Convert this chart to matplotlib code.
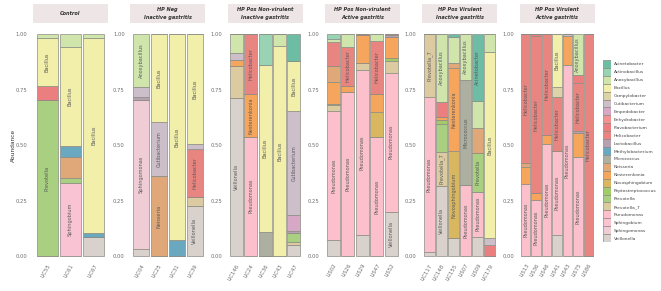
import matplotlib

matplotlib.use("Agg")
import matplotlib.pyplot as plt
import numpy as np

GENERA = [
    "Acinetobacter", "Actinobacillus", "Anoxybacillus", "Bacillus", "Campylobacter",
    "Cutibacterium", "Empedobacter", "Enhydrobacter", "Flavobacterium", "Helicobacter",
    "Lactobacillus", "Methylobacterium", "Micrococcus", "Neisseria", "Nesterenkonia",
    "Novosphingobium", "Peptostreptococcus", "Prevotella", "Prevotella_7", "Pseudomonas",
    "Sphingobium", "Sphingomonas", "Veillonella",
]
COLORS = [
    "#6DBDA5", "#98D3B4", "#CFE5AC", "#F2EFAA", "#DDD3A8",
    "#CDBFC9", "#D6A8C6", "#F29393", "#EB7F7F", "#E98580",
    "#B8A0B3", "#6AA8C0", "#ADAFA0", "#E0A879", "#F6A55C",
    "#D8B760", "#A3CB6A", "#A8D080", "#DCCBA0", "#FBC0CB",
    "#F9C3D3", "#EFCCD6", "#D9D1CC",
]

CONTROL_SAMPLES = ["LIC55", "LIC61", "LIC67"]
CONTROL = {
    "Anoxybacillus": [0.020, 0.060, 0.020],
    "Bacillus": [0.216, 0.444, 0.874],
    "Flavobacterium": [0.061, 0, 0],
    "Methylobacterium": [0, 0.051, 0.022],
    "Neisseria": [0, 0.095, 0],
    "Prevotella": [0.703, 0.022, 0],
    "Sphingobium": [0, 0.328, 0],
    "Veillonella": [0, 0, 0.084],
}

HPNEG_SAMPLES = ["LIC04", "LIC25", "LIC31", "LIC39"]
HPNEG = {
    "Anoxybacillus": [0.240, 0, 0, 0],
    "Bacillus": [0, 0.395, 0.928, 0.495],
    "Cutibacterium": [0.045, 0.245, 0, 0.024],
    "Helicobacter": [0, 0, 0, 0.216],
    "Lactobacillus": [0.010, 0, 0, 0],
    "Methylobacterium": [0, 0, 0.072, 0],
    "Neisseria": [0, 0.360, 0, 0],
    "Prevotella_7": [0, 0, 0, 0.038],
    "Sphingomonas": [0.675, 0, 0, 0],
    "Veillonella": [0.030, 0, 0, 0.227],
}

NV_INACTIVE_SAMPLES = ["LIC146", "LIC24", "LIC36", "LIC43", "LIC47"]
NV_INACTIVE = {
    "Acinetobacter": [0, 0, 0, 0, 0.122],
    "Actinobacillus": [0, 0, 0.140, 0, 0],
    "Anoxybacillus": [0.084, 0, 0, 0.054, 0],
    "Bacillus": [0, 0, 0.750, 0.946, 0.224],
    "Cutibacterium": [0.033, 0, 0, 0, 0.468],
    "Empedobacter": [0, 0, 0, 0, 0.075],
    "Helicobacter": [0, 0.270, 0, 0, 0],
    "Lactobacillus": [0, 0, 0, 0, 0.008],
    "Micrococcus": [0, 0, 0.110, 0, 0],
    "Nesterenkonia": [0.027, 0.192, 0, 0, 0],
    "Prevotella": [0, 0, 0, 0, 0.038],
    "Prevotella_7": [0.145, 0, 0, 0, 0.015],
    "Pseudomonas": [0, 0.538, 0, 0, 0],
    "Veillonella": [0.711, 0, 0, 0, 0.050],
}

NV_ACTIVE_SAMPLES = ["LIS02", "LIS26", "LIS29", "LIS47", "LIS52"]
NV_ACTIVE = {
    "Actinobacillus": [0.024, 0, 0, 0, 0],
    "Anoxybacillus": [0.010, 0.057, 0, 0.030, 0],
    "Helicobacter": [0.110, 0.177, 0.006, 0.240, 0.006],
    "Lactobacillus": [0, 0, 0, 0, 0.009],
    "Neisseria": [0.070, 0, 0, 0, 0],
    "Nesterenkonia": [0.100, 0.026, 0.126, 0.080, 0.095],
    "Novosphingobium": [0, 0, 0, 0.115, 0],
    "Peptostreptococcus": [0.008, 0, 0, 0, 0.012],
    "Prevotella_7": [0.025, 0, 0.030, 0, 0.052],
    "Pseudomonas": [0.581, 0.740, 0.743, 0.535, 0.626],
    "Veillonella": [0.072, 0, 0.095, 0, 0.200],
}

V_INACTIVE_SAMPLES = ["LIC117", "LIC148", "LIC155", "LIS07", "LIS09", "LIC179"]
V_INACTIVE = {
    "Acinetobacter": [0, 0, 0.012, 0, 0.300, 0],
    "Anoxybacillus": [0, 0.305, 0.120, 0.207, 0.125, 0.080],
    "Bacillus": [0, 0, 0, 0, 0, 0.840],
    "Cutibacterium": [0, 0, 0, 0, 0, 0.030],
    "Flavobacterium": [0, 0.070, 0, 0, 0, 0.050],
    "Micrococcus": [0, 0, 0, 0.473, 0, 0],
    "Neisseria": [0, 0, 0.022, 0, 0.113, 0],
    "Nesterenkonia": [0, 0.012, 0.375, 0, 0, 0],
    "Novosphingobium": [0, 0, 0.391, 0, 0, 0],
    "Peptostreptococcus": [0, 0.018, 0, 0, 0, 0],
    "Prevotella": [0, 0.125, 0, 0, 0.172, 0],
    "Prevotella_7": [0.285, 0.155, 0, 0, 0, 0],
    "Pseudomonas": [0.695, 0, 0, 0.320, 0.203, 0],
    "Veillonella": [0.020, 0.315, 0.080, 0, 0.087, 0],
}

V_ACTIVE_SAMPLES = ["LIS13", "LIS36", "LIS46", "LIS41", "LIS43", "LIS75", "LIS86"]
V_ACTIVE = {
    "Anoxybacillus": [0, 0, 0, 0, 0, 0.185, 0],
    "Bacillus": [0, 0, 0, 0.240, 0, 0, 0],
    "Campylobacter": [0, 0, 0, 0.045, 0, 0, 0],
    "Cutibacterium": [0, 0, 0, 0, 0.010, 0, 0],
    "Flavobacterium": [0, 0.010, 0, 0, 0, 0.035, 0],
    "Helicobacter": [0.583, 0.708, 0.455, 0.240, 0, 0.219, 1.0],
    "Lactobacillus": [0, 0, 0, 0, 0, 0.008, 0],
    "Neisseria": [0.015, 0, 0, 0, 0, 0, 0],
    "Nesterenkonia": [0.078, 0.030, 0.040, 0, 0.130, 0.108, 0],
    "Pseudomonas": [0.324, 0.252, 0.505, 0.380, 0.860, 0.445, 0],
    "Veillonella": [0, 0, 0, 0.095, 0, 0, 0],
}

PANELS = [
    ("Control", CONTROL_SAMPLES, CONTROL),
    ("HP Neg\nInactive gastritis", HPNEG_SAMPLES, HPNEG),
    ("HP Pos Non-virulent\nInactive gastritis", NV_INACTIVE_SAMPLES, NV_INACTIVE),
    ("HP Pos Non-virulent\nActive gastritis", NV_ACTIVE_SAMPLES, NV_ACTIVE),
    ("HP Pos Virulent\nInactive gastritis", V_INACTIVE_SAMPLES, V_INACTIVE),
    ("HP Pos Virulent\nActive gastritis", V_ACTIVE_SAMPLES, V_ACTIVE),
]

LABEL_MIN = 0.15
W, H = 661, 291
STRIP_BG = "#EDE5E6"
EDGE = "#8C8C84"

fig = plt.figure(figsize=(W / 100, H / 100), dpi=100)
color_of = dict(zip(GENERA, COLORS))

for i, (title, samples, table) in enumerate(PANELS):
    left = 33 + 97.3 * i
    ax = fig.add_axes([left / W, 1 - 258.7 / H, 75 / W, 235.8 / H])
    x = np.arange(len(samples))
    # stack so that the first genus (alphabetically) is on top
    bottom = np.zeros(len(samples))
    for genus in reversed(GENERA):
        if genus not in table:
            continue
        vals = np.array(table[genus], dtype=float)
        ax.bar(x, vals, bottom=bottom, width=0.9, color=color_of[genus],
               edgecolor=EDGE, linewidth=0.5)
        for xi, v, b in zip(x, vals, bottom):
            if v > LABEL_MIN:
                ax.text(xi, b + v / 2, genus, rotation=90, ha="center", va="center",
                        fontsize=3.6, color="#5A5A5A")
        bottom += vals
    ax.set_xlim(-0.6, len(samples) - 0.4)
    ax.set_ylim(-0.012, 1.05)
    ax.set_yticks([0, 0.25, 0.5, 0.75, 1.0])
    ax.set_yticklabels(["0.00", "0.25", "0.50", "0.75", "1.00"])
    ax.set_xticks(x)
    ax.set_xticklabels(samples, rotation=60, ha="right", rotation_mode="anchor")
    ax.tick_params(axis="both", length=0, labelsize=3.8, labelcolor="#6E6E6E")
    ax.tick_params(axis="y", pad=4)
    ax.tick_params(axis="x", pad=3)
    for s in ax.spines.values():
        s.set_visible(False)

    sx = fig.add_axes([left / W, 1 - 22.8 / H, 75 / W, 18.8 / H])
    sx.set_facecolor(STRIP_BG)
    sx.set_xticks([])
    sx.set_yticks([])
    for s in sx.spines.values():
        s.set_visible(False)
    sx.text(0.5, 0.5, title, ha="center", va="center", fontsize=3.6,
            fontweight="bold", fontstyle="italic", color="#333333",
            linespacing=1.9, transform=sx.transAxes)

fig.text(13 / W, 1 - 145 / H, "Abundance", rotation=90, ha="center", va="center",
         fontsize=4.2, color="#333333")

# legend: a column of stacked keys with the genus names on the right
lax = fig.add_axes([603 / W, 1 - 242 / H, 8 / W, 182 / H])
ky = np.arange(len(GENERA))
lax.barh(ky, np.ones(len(GENERA)), height=1.0, color=COLORS, edgecolor=EDGE, linewidth=0.5)
lax.set_ylim(len(GENERA) - 0.5, -0.5)
lax.set_xlim(0, 1)
lax.set_xticks([])
lax.yaxis.tick_right()
lax.set_yticks(ky)
lax.set_yticklabels(GENERA)
lax.tick_params(axis="y", length=0, pad=2.2, labelsize=3.2, labelcolor="#444444")
for s in lax.spines.values():
    s.set_visible(False)

fig.savefig("out.png", dpi=100)
